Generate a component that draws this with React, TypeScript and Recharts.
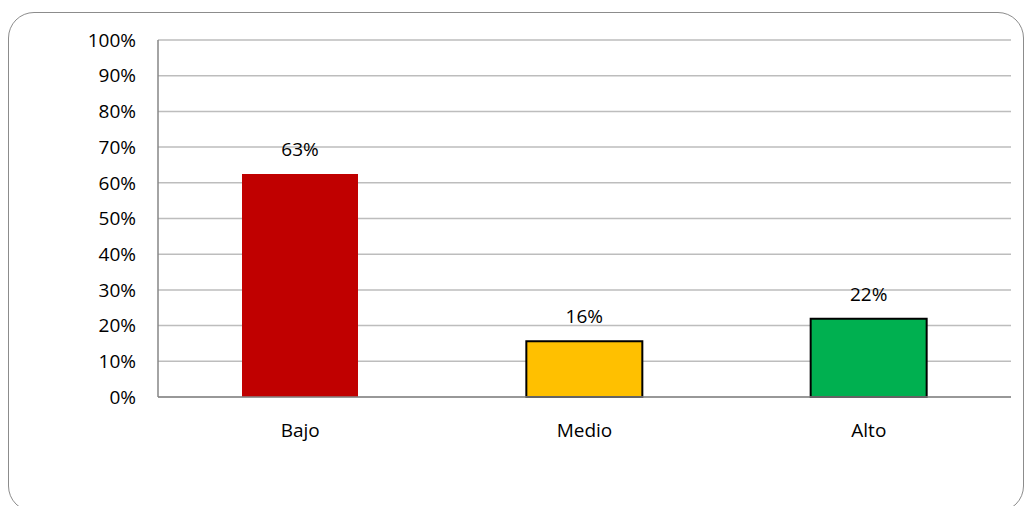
import { Bar, BarChart, CartesianGrid, Cell, LabelList, XAxis, YAxis } from "recharts";

const categories = ["Bajo", "Medio", "Alto"];
const shares = [62.5, 15.6, 21.9];
const barColors = ["#C00000", "#FFC000", "#00B050"];
const barStrokes = ["none", "#000000", "#000000"];
const yTicks = [0, 10, 20, 30, 40, 50, 60, 70, 80, 90, 100];

const data = categories.map((name, i) => ({ name, value: shares[i] }));

const font = "'Open Sans', 'Noto Sans', sans-serif";

export default function App() {
  return (
    <div
      style={{
        position: "absolute",
        top: 0,
        left: 0,
        width: 1026,
        height: 506,
        overflow: "hidden",
        background: "#fff",
        fontFamily: font,
      }}
    >
      <div
        style={{
          position: "absolute",
          left: 8,
          top: 12,
          width: 1016,
          height: 500,
          border: "1.5px solid #8c8c8c",
          borderRadius: 26,
          boxSizing: "border-box",
        }}
      />
      <BarChart
        width={1026}
        height={506}
        data={data}
        barSize={116}
        margin={{ top: 40, right: 15, bottom: 79, left: 98 }}
        style={{ position: "absolute", top: 0, left: 0 }}
      >
        <CartesianGrid vertical={false} stroke="#BDBDBD" strokeWidth={1.5} />
        <XAxis
          dataKey="name"
          height={30}
          tickLine={false}
          tickMargin={21}
          axisLine={{ stroke: "#868686", strokeWidth: 1.5 }}
          tick={{ fill: "#000", fontSize: 19, fontFamily: font }}
        />
        <YAxis
          width={60}
          domain={[0, 100]}
          ticks={yTicks}
          interval={0}
          tickLine={false}
          tickMargin={16}
          axisLine={{ stroke: "#868686", strokeWidth: 1.5 }}
          tickFormatter={(v) => `${v}%`}
          tick={{ fill: "#000", fontSize: 19, fontFamily: font }}
        />
        <Bar dataKey="value" isAnimationActive={false}>
          {data.map((d, i) => (
            <Cell
              key={d.name}
              fill={barColors[i]}
              stroke={barStrokes[i]}
              strokeWidth={2}
            />
          ))}
          <LabelList
            dataKey="value"
            position="top"
            offset={18}
            formatter={(v) => `${Math.round(Number(v))}%`}
            style={{ fill: "#000", fontSize: 19, fontFamily: font }}
          />
        </Bar>
      </BarChart>
    </div>
  );
}
